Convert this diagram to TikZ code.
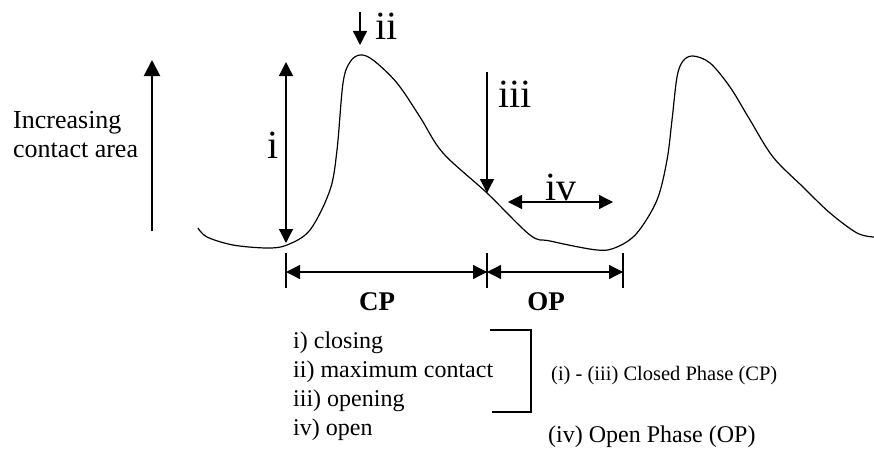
\documentclass[tikz,border=0pt]{standalone}
\usepackage{fontspec}
\setmainfont{Liberation Serif}
\usetikzlibrary{arrows.meta}
\begin{document}
\begin{tikzpicture}[x=1pt,y=-1pt,
  thinline/.style={line width=1.3pt},
  tip/.style={-{Triangle[length=14pt,width=14pt]}},
  dtip/.style={{Triangle[length=14pt,width=14pt]}-{Triangle[length=14pt,width=14pt]}},
  roman/.style={font=\fontsize{40}{40}\selectfont, inner sep=0pt, anchor=base west},
  txt/.style={font=\fontsize{24}{29}\selectfont, inner sep=0pt, align=left},
  bold/.style={font=\fontsize{27}{27}\bfseries\selectfont, inner sep=0pt, anchor=base}]
\useasboundingbox (0,0) rectangle (874,452);
% axis arrow
\coordinate (axb) at (152,231);
\coordinate (axt) at (152,60);
\draw[line width=2.2pt, -{Triangle[length=16pt,width=16pt]}] (axb) -- (axt);
\node[txt, font=\fontsize{26}{29}\selectfont, anchor=base west] (inc) at (13,157) {Increasing\\contact area};
% curve
\draw[line width=1.2pt, line join=round] plot[smooth, tension=0.55] coordinates {
 (198,228) (207,237) (233,245) (267,248) (287,245) (310,230) (330,190) (337,150)
 (343,83) (350,62) (360,55) (373,60) (397,83) (420,117) (443,153) (487,193)
 (530,235) (550,241) (597,250) (617,247) (637,233) (657,200) (667,160) (672,120)
 (677,77) (683,61) (693,56) (710,63) (730,87) (750,120) (773,157) (803,187)
 (830,213) (857,233) (874,237)};
% i arrow
\coordinate (ib) at (286,243);
\coordinate (it) at (286,62);
\draw[thinline, dtip] (ib) -- (it);
\node[roman] (li) at (267,158) {i};
% ii arrow
\coordinate (iia) at (360,12);
\coordinate (iib) at (360,45);
\draw[thinline, tip] (iia) -- (iib);
\node[roman] (lii) at (375,40) {ii};
% iii arrow
\coordinate (iiia) at (487,72);
\coordinate (iiib) at (487,193);
\draw[thinline, tip] (iiia) -- (iiib);
\node[roman] (liii) at (498,107) {iii};
% iv arrow
\coordinate (iva) at (508,202);
\coordinate (ivb) at (613,202);
\draw[thinline, dtip] (iva) -- (ivb);
\node[roman] (liv) at (545,200) {iv};
% dimension lines
\coordinate (t1a) at (286,253); \coordinate (t1b) at (286,288);
\coordinate (t2a) at (487,253); \coordinate (t2b) at (487,288);
\coordinate (t3a) at (623,253); \coordinate (t3b) at (623,288);
\draw[line width=1.1pt] (t1a) -- (t1b) (t2a) -- (t2b) (t3a) -- (t3b);
\coordinate (d1) at (286,272); \coordinate (d2) at (487,272); \coordinate (d3) at (623,272);
\draw[thinline, dtip] (d1) -- (d2);
\draw[thinline, dtip] (d2) -- (d3);
\node[bold] (cp) at (377,310) {CP};
\node[bold] (op) at (546,310) {OP};
% list
\node[txt, anchor=base west] (list) at (293,435) {i) closing\\ii) maximum contact\\iii) opening\\iv) open};
% bracket
\coordinate (b1) at (490,330); \coordinate (b2) at (531,330);
\coordinate (b3) at (531,412); \coordinate (b4) at (492,412);
\draw[line width=1.5pt] (b1) -- (b2) -- (b3) -- (b4);
\node[txt, font=\fontsize{20.5}{24}\selectfont, anchor=base west] (cph) at (551,380) {(i) - (iii) Closed Phase (CP)};
\node[txt, anchor=base west] (oph) at (548,442) {(iv) Open Phase (OP)};
\end{tikzpicture}
\end{document}
